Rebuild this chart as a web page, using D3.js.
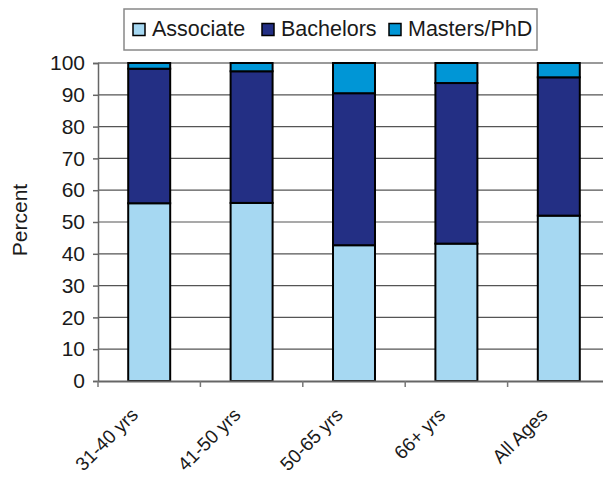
<!DOCTYPE html>
<html>
<head>
  <meta charset="utf-8">
  <title>Degree by age</title>
  <script src="https://cdn.jsdelivr.net/npm/d3@7"></script>
  <style>
    body { margin: 0; background: #fff; }
    text { font-family: "Liberation Sans", Arial, sans-serif; fill: #1a1a1a; }
  </style>
</head>
<body>
<svg width="603" height="480"></svg>
<script>
  // data
  const ages = ['31-40 yrs', '41-50 yrs', '50-65 yrs', '66+ yrs', 'All Ages'];
  const associate = [55.9, 56.0, 42.7, 43.2, 52.0];
  const bachelors = [42.3, 41.4, 47.8, 50.5, 43.5];
  const masters = [1.8, 2.6, 9.5, 6.3, 4.5];
  const seriesNames = ['Associate', 'Bachelors', 'Masters/PhD'];
  const colors = ['#a6d8f2', '#232f84', '#0096d6'];
  const yTicks = [0, 10, 20, 30, 40, 50, 60, 70, 80, 90, 100];

  const svg = d3.select('svg');
  const mLeft = 98, mRight = 610, mTop = 63, mBottom = 381;

  const x = d3.scaleBand().domain(ages).range([mLeft, mRight]).paddingInner(0.59).paddingOuter(0.295);
  const y = d3.scaleLinear().domain([0, 100]).range([mBottom, mTop]);

  const rows = ages.map((a, i) => ({age: a, Associate: associate[i], Bachelors: bachelors[i], 'Masters/PhD': masters[i]}));
  const stacked = d3.stack().keys(seriesNames)(rows);

  // grid
  svg.append('g').selectAll('line').data(yTicks.filter(d => d > 0))
    .enter().append('line')
      .attr('x1', mLeft).attr('x2', mRight)
      .attr('y1', d => y(d)).attr('y2', d => y(d))
      .attr('stroke', d => d === 100 ? '#999' : '#555')
      .attr('stroke-width', d => d === 100 ? 2 : 1.2);

  // bars
  const g = svg.append('g');
  stacked.forEach((s, k) => {
    g.selectAll('.s' + k).data(s).enter().append('rect')
      .attr('x', d => x(d.data.age))
      .attr('width', x.bandwidth())
      .attr('y', d => y(d[1]))
      .attr('height', d => y(d[0]) - y(d[1]))
      .attr('fill', colors[k])
      .attr('stroke', '#000')
      .attr('stroke-width', 2);
  });

  // y axis
  const yAxis = svg.append('g').attr('transform', `translate(${mLeft},0)`)
    .call(d3.axisLeft(y).tickValues(yTicks).tickSize(5).tickPadding(8));
  yAxis.select('.domain').attr('stroke', '#666').attr('stroke-width', 1.5);
  yAxis.selectAll('.tick line').attr('stroke', '#666').attr('stroke-width', 1.5);
  yAxis.selectAll('text').attr('font-size', 21).attr('fill', '#1a1a1a');

  // x axis
  const xAxis = svg.append('g').attr('transform', `translate(0,${mBottom})`)
    .call(d3.axisBottom(x).tickSize(0).tickFormat(''));
  xAxis.select('.domain').attr('stroke', '#666').attr('stroke-width', 2);
  const bounds = [mLeft, ...ages.map(a => x(a) + x.bandwidth() / 2 + x.step() / 2)];
  xAxis.selectAll('.sep').data(bounds).enter().append('line')
    .attr('x1', d => d).attr('x2', d => d).attr('y1', 0).attr('y2', 6)
    .attr('stroke', '#777').attr('stroke-width', 1.5);
  xAxis.selectAll('.lbl').data(ages).enter().append('text')
    .attr('text-anchor', 'end')
    .attr('font-size', 19)
    .attr('transform', d => `translate(${x(d) + x.bandwidth() / 2 - 10},${35}) rotate(-45)`)
    .text(d => d);

  svg.append('text')
    .attr('transform', `translate(27,220) rotate(-90)`)
    .attr('text-anchor', 'middle')
    .attr('font-size', 21)
    .text('Percent');

  // legend
  const lg = svg.append('g');
  lg.append('rect').attr('x', 124).attr('y', 9).attr('width', 413).attr('height', 41)
    .attr('fill', '#fff').attr('stroke', '#888').attr('stroke-width', 1.5);
  const legX = [133, 262, 389];
  seriesNames.forEach((n, k) => {
    lg.append('rect').attr('x', legX[k]).attr('y', 23.5).attr('width', 12).attr('height', 12)
      .attr('fill', colors[k]).attr('stroke', '#000').attr('stroke-width', 1.5);
    lg.append('text').attr('x', legX[k] + 19).attr('y', 36).attr('font-size', 21.5).text(n);
  });
</script>
</body>
</html>
